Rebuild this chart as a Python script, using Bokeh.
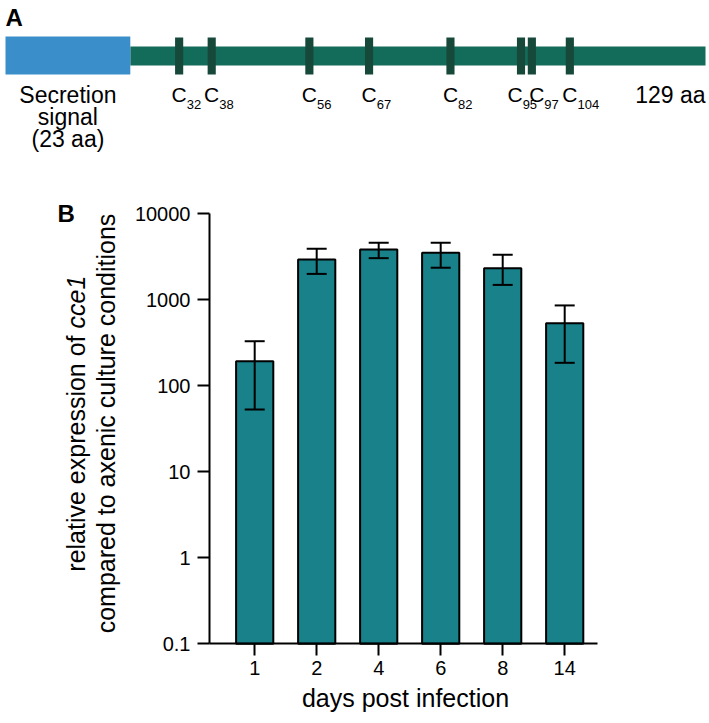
import math
from bokeh.plotting import figure
from bokeh.models import (Range1d, FixedTicker, Label, Whisker, TeeHead, LinearScale,
                          ColumnDataSource, CustomJSTickFormatter)
from bokeh.embed import file_html
from bokeh.resources import INLINE

# ---------------- data ----------------
# Panel A: protein diagram (amino-acid positions)
protein_length = 129
signal_length = 23
cys_positions = [32, 38, 56, 67, 82, 95, 97, 104]

# Panel B: relative expression of cce1
days = ["1", "2", "4", "6", "8", "14"]
expression = [193, 2940, 3850, 3520, 2330, 535]
err_lower = [53, 2000, 3050, 2360, 1490, 185]
err_upper = [330, 3920, 4600, 4600, 3340, 860]
y_ticks = [0.1, 1, 10, 100, 1000, 10000]

FONT = "Liberation Sans"
BLUE = "#3a8fca"
GREEN = "#136b59"
DARK = "#17493a"
TEAL = "#19818a"

# label nudges (in aa) so that crowded cysteine labels do not overlap
LABEL_NUDGE = {95: -1.1, 97: 0.9}

# page geometry helpers (page pixel -> data); the page has no body margin
X0 = -0.729          # data x at the y-axis
PX_PER_CAT = 62.0
AXIS_X = 209.0
TOP_Y = 213.3
PX_PER_DECADE = 86.0

def xdata(page_x):
    return X0 + (page_x - AXIS_X) / PX_PER_CAT

def ydata(page_y):
    return 10 ** (4 - (page_y - TOP_Y) / PX_PER_DECADE)

AA_PX = 700.0 / 129.0
def aa_from_page(page_x):
    return (page_x - 5.0) / AA_PX

W, H = 709, 720
p = figure(width=W, height=H, output_backend="svg", toolbar_location=None,
           y_axis_type="log",
           x_range=Range1d(xdata(0), xdata(W)),
           y_range=Range1d(ydata(H), ydata(0)),
           min_border=0)
p.grid.visible = False
p.outline_line_color = None

# extra linear ranges: amino acids (x) and page pixels (x, y)
p.extra_x_ranges = {"aa": Range1d(aa_from_page(0), aa_from_page(W)),
                    "pgx": Range1d(0, W)}
p.extra_x_scales = {"aa": LinearScale(), "pgx": LinearScale()}
p.extra_y_ranges = {"pg": Range1d(H, 0)}
p.extra_y_scales = {"pg": LinearScale()}

# ---------------- panel A ----------------
p.quad(left=[signal_length], right=[protein_length], top=[46], bottom=[65],
       fill_color=GREEN, line_color=None, x_range_name="aa", y_range_name="pg")
p.quad(left=[0], right=[signal_length], top=[36], bottom=[74],
       fill_color=BLUE, line_color=None, x_range_name="aa", y_range_name="pg")
p.quad(left=[c - 0.75 for c in cys_positions], right=[c + 0.75 for c in cys_positions],
       top=[37] * len(cys_positions), bottom=[74] * len(cys_positions),
       fill_color=DARK, line_color=None, x_range_name="aa", y_range_name="pg")

def lab(x, y, text, size, align="center", style="normal", angle=0.0, xr="pgx"):
    p.add_layout(Label(x=x, y=y, text=text, text_font=FONT, text_font_size=size,
                       text_font_style=style, text_align=align, text_baseline="middle",
                       text_color="black", angle=angle,
                       x_range_name=xr, y_range_name="pg"))

lab(5, 17, "A", "24px", align="left", style="bold")
for i, t in enumerate(["Secretion", "signal", f"({signal_length} aa)"]):
    lab(signal_length / 2.0, 94 + 22 * i, t, "23px", xr="aa")
for c in cys_positions:
    cx = c + LABEL_NUDGE.get(c, 0.0)
    lab(cx, 94, "C", "21px", xr="aa")
    lab(cx + 1.4, 104, str(c), "13px", align="left", xr="aa")
lab(protein_length, 94, f"{protein_length} aa", "23px", align="right", xr="aa")

# ---------------- panel B ----------------
xs = list(range(len(days)))
src = ColumnDataSource(dict(x=xs, top=expression, lower=err_lower, upper=err_upper))

p.vbar(x="x", top="top", bottom=0.1, width=0.6, source=src,
       fill_color=TEAL, line_color="black", line_width=2)
p.add_layout(Whisker(base="x", upper="upper", lower="lower", source=src, line_width=2,
                     line_color="black",
                     upper_head=TeeHead(size=20, line_width=2, line_color="black"),
                     lower_head=TeeHead(size=20, line_width=2, line_color="black"),
                     level="overlay"))

for ax in (p.xaxis[0], p.yaxis[0]):
    ax.axis_line_width = 2
    ax.major_tick_line_width = 2
    ax.major_tick_out = 12
    ax.major_tick_in = 0
    ax.minor_tick_line_color = None
    ax.major_label_text_font = FONT
    ax.major_label_text_font_size = "20px"
    ax.major_label_text_color = "black"
    ax.axis_line_color = "black"
    ax.major_tick_line_color = "black"

p.yaxis.ticker = FixedTicker(ticks=y_ticks)
p.yaxis.formatter = CustomJSTickFormatter(code="return String(tick);")
p.yaxis.major_label_standoff = 7
p.yaxis.fixed_location = X0
p.yaxis.bounds = (y_ticks[0], y_ticks[-1])

p.xaxis.ticker = FixedTicker(ticks=xs)
p.xaxis.major_label_overrides = {i: d for i, d in enumerate(days)}
p.xaxis.major_label_standoff = 5
p.xaxis.fixed_location = y_ticks[0]
p.xaxis.bounds = (X0, X0 + 388 / PX_PER_CAT)

lab(57, 213, "B", "24px", align="left", style="bold")
lab(75, 328, "relative expression of ", "25px", align="right", angle=math.pi / 2)
lab(75, 328, "cce1", "25px", align="left", style="italic", angle=math.pi / 2)
lab(105, 423, "compared to axenic culture conditions", "25px", angle=math.pi / 2)
lab(405, 697, "days post infection", "25px")

open("out.html", "w").write(file_html(p, INLINE))
